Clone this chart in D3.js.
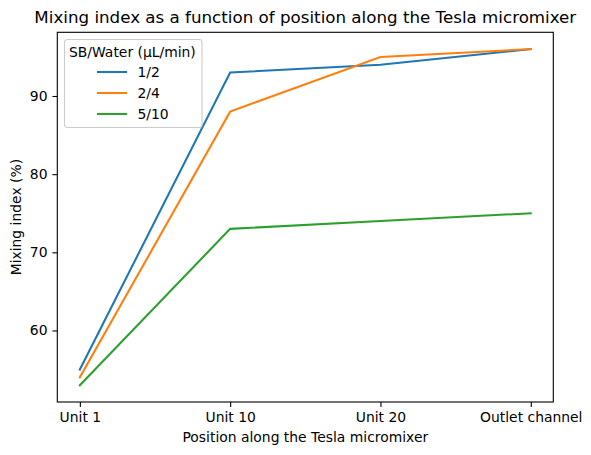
<!DOCTYPE html>
<html>
<head>
<meta charset="utf-8">
<script src="https://cdn.jsdelivr.net/npm/d3@7"></script>
<style>
  body { margin: 0; background: #fff; }
  svg text { font-family: "DejaVu Sans", sans-serif; fill: #000; }
</style>
</head>
<body>
<div id="chart"></div>
<script>
// values
const positions = ["Unit 1", "Unit 10", "Unit 20", "Outlet channel"];
const seriesNames = ["1/2", "2/4", "5/10"];
const mix_1_2 = [55, 93, 94, 96];
const mix_2_4 = [54, 88, 95, 96];
const mix_5_10 = [53, 73, 74, 75];
const yTicks = [60, 70, 80, 90];
const colors = ["#1f77b4", "#ff7f0e", "#2ca02c"];

const W = 591, H = 455;
const margin = { top: 32.3, right: 37.7, bottom: 53, left: 57.3 };
const width = W - margin.left - margin.right,
      height = H - margin.top - margin.bottom;

const series = [mix_1_2, mix_2_4, mix_5_10];
const allVals = series.flat();
const lo = d3.min(allVals), hi = d3.max(allVals);
const pad = (hi - lo) * 0.05;

const x = d3.scaleLinear()
    .domain([-0.15, positions.length - 1 + 0.15])
    .range([0, width]);
const y = d3.scaleLinear()
    .domain([lo - pad, hi + pad])
    .range([height, 0]);

const svg = d3.select("#chart").append("svg")
    .attr("width", W)
    .attr("height", H);

const g = svg.append("g")
    .attr("transform", `translate(${margin.left},${margin.top})`);

// lines
const line = d3.line()
    .x((d, i) => x(i))
    .y(d => y(d));

series.forEach((s, k) => {
  g.append("path")
      .datum(s)
      .attr("fill", "none")
      .attr("stroke", colors[k])
      .attr("stroke-width", 2.08)
      .attr("stroke-linecap", "square")
      .attr("d", line);
});

// axes
const xAxis = g.append("g")
    .attr("transform", `translate(0,${height})`)
    .call(d3.axisBottom(x)
      .tickValues(d3.range(positions.length))
      .tickFormat(i => positions[i])
      .tickSize(4.9)
      .tickPadding(4.9));
const yAxis = g.append("g")
    .call(d3.axisLeft(y)
      .tickValues(yTicks)
      .tickSize(4.9)
      .tickPadding(4.9));

[xAxis, yAxis].forEach(a => {
  a.select(".domain").remove();
  a.selectAll("line").attr("stroke", "#000").attr("stroke-width", 1.1);
  a.selectAll("text").style("font-size", "13.9px").style("font-family", "DejaVu Sans");
});

// frame
g.append("rect")
    .attr("width", width)
    .attr("height", height)
    .attr("fill", "none")
    .attr("stroke", "#000")
    .attr("stroke-width", 1.1);

// title and labels
svg.append("text")
    .attr("x", margin.left + width / 2)
    .attr("y", 23)
    .attr("text-anchor", "middle")
    .style("font-size", "16.7px")
    .text("Mixing index as a function of position along the Tesla micromixer");

svg.append("text")
    .attr("x", margin.left + width / 2)
    .attr("y", 442)
    .attr("text-anchor", "middle")
    .style("font-size", "13.9px")
    .text("Position along the Tesla micromixer");

svg.append("text")
    .attr("transform", `translate(21,${margin.top + height / 2}) rotate(-90)`)
    .attr("text-anchor", "middle")
    .style("font-size", "13.9px")
    .text("Mixing index (%)");

// legend
const lg = svg.append("g").attr("transform", "translate(64.5,39.5)");
lg.append("rect")
    .attr("width", 137.5)
    .attr("height", 88)
    .attr("rx", 2.8)
    .attr("fill", "#fff")
    .attr("fill-opacity", 0.8)
    .attr("stroke", "#cccccc")
    .attr("stroke-width", 1.1);
lg.append("text")
    .attr("x", 4.5)
    .attr("y", 17)
    .style("font-size", "13.9px")
    .text("SB/Water (µL/min)");
seriesNames.forEach((name, k) => {
  const yy = 32.5 + k * 21;
  lg.append("line")
      .attr("x1", 32.5).attr("x2", 62.5)
      .attr("y1", yy).attr("y2", yy)
      .attr("stroke", colors[k])
      .attr("stroke-width", 2.08);
  lg.append("text")
      .attr("x", 73)
      .attr("y", yy + 5)
      .style("font-size", "13.9px")
      .text(name);
});
</script>
</body>
</html>
